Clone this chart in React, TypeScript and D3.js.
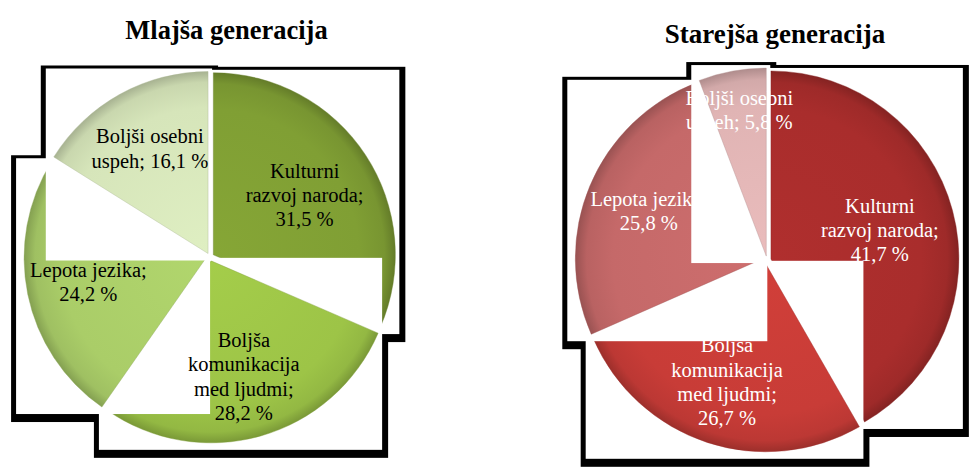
import React from "react";
import * as d3 from "d3";

// ---------- data ----------
const categories = [
  "Kulturni\nrazvoj naroda;",
  "Boljša\nkomunikacija\nmed ljudmi;",
  "Lepota jezika;",
  "Boljši osebni\nuspeh;",
];
const titles = ["Mlajša generacija", "Starejša generacija"];
const youngerValues = [31.5, 28.2, 24.2, 16.1];
const olderValues = [41.7, 26.7, 25.8, 5.8];
const youngerColors = ["#809f34", "#9dc447", "#aacd68", "#d6e5ba"];
const olderColors = ["#a92d2c", "#c83c37", "#c56969", "#e0b4b4"];

// ---------- layout ----------
const W = 971;
const H = 472;
const PAD = { l: 8, t: 3, r: 4, b: 7 }; // white box round each slice
const SHADOW = { l: 5, t: 3, r: 6, b: 8 }; // black frame round the boxes
const FONT = "Liberation Serif, Times New Roman, serif";

type Cfg = {
  id: string;
  title: string;
  values: number[];
  colors: string[];
  cx: number;
  cy: number;
  r: number;
  explode: number;
  titleX: number;
  titleY: number;
  titleSize: number;
  textColor: string;
};

const charts: Cfg[] = [
  {
    id: "young",
    title: titles[0],
    values: youngerValues,
    colors: youngerColors,
    cx: 210,
    cy: 257,
    r: 182,
    explode: 4,
    titleX: 226.5,
    titleY: 39,
    titleSize: 26.5,
    textColor: "#000000",
  },
  {
    id: "old",
    title: titles[1],
    values: olderValues,
    colors: olderColors,
    cx: 767,
    cy: 260,
    r: 188,
    explode: 4,
    titleX: 775,
    titleY: 43,
    titleSize: 27,
    textColor: "#ffffff",
  },
];

const fmt = (v: number) => d3.format(".1f")(v).replace(".", ",") + " %";

function labelLines(cat: string, v: number): string[] {
  const lines = cat.split("\n");
  const last = lines[lines.length - 1];
  if (last.length < 8) {
    lines[lines.length - 1] = last + " " + fmt(v);
  } else {
    lines.push(fmt(v));
  }
  return lines;
}

function PieChart({ cfg }: { cfg: Cfg }) {
  const total = d3.sum(cfg.values);
  const arcs = d3.pie<number>().sort(null).value((d) => d)(cfg.values);
  const arcGen = d3
    .arc<d3.PieArcDatum<number>>()
    .innerRadius(0)
    .outerRadius(cfg.r);

  const pieces = arcs.map((a, i) => {
    const mid = (a.startAngle + a.endAngle) / 2;
    const ox = cfg.cx + cfg.explode * Math.sin(mid);
    const oy = cfg.cy - cfg.explode * Math.cos(mid);
    const angles = [a.startAngle, a.endAngle];
    for (let k = 0; k <= 4; k++) {
      const q = (k * Math.PI) / 2;
      if (q > a.startAngle && q < a.endAngle) angles.push(q);
    }
    const xs = [0, ...angles.map((t) => cfg.r * Math.sin(t))];
    const ys = [0, ...angles.map((t) => -cfg.r * Math.cos(t))];
    const x0 = ox + Math.min(...xs) - PAD.l;
    const x1 = ox + Math.max(...xs) + PAD.r;
    const y0 = oy + Math.min(...ys) - PAD.t;
    const y1 = oy + Math.max(...ys) + PAD.b;
    const frac = a.value / total;
    const ratio = frac < 0.1 ? 0.79 : frac > 0.3 ? 0.6 : 0.66;
    const lx = ox + ratio * cfg.r * Math.sin(mid);
    const ly = oy - ratio * cfg.r * Math.cos(mid);
    return { a, i, ox, oy, x0, x1, y0, y1, lx, ly };
  });

  const fs = 20.5;
  const lh = 24.4;

  return (
    <g>
      <defs>
        {pieces.map((p) => {
          const base = d3.color(cfg.colors[p.i])!;
          return (
            <radialGradient
              key={p.i}
              id={`${cfg.id}-g${p.i}`}
              gradientUnits="userSpaceOnUse"
              cx={0}
              cy={0}
              r={cfg.r}
            >
              <stop offset="0" stopColor={base.brighter(0.12).formatHex()} />
              <stop offset="0.8" stopColor={base.formatHex()} />
              <stop offset="0.94" stopColor={base.darker(0.18).formatHex()} />
              <stop offset="1" stopColor={base.darker(0.7).formatHex()} />
            </radialGradient>
          );
        })}
      </defs>
      <text
        x={cfg.titleX}
        y={cfg.titleY}
        textAnchor="middle"
        fontFamily={FONT}
        fontWeight="bold"
        fontSize={cfg.titleSize}
        fill="#000"
      >
        {cfg.title}
      </text>
      {pieces.map((p) => (
        <rect
          key={"s" + p.i}
          x={p.x0 - SHADOW.l}
          y={p.y0 - SHADOW.t}
          width={p.x1 - p.x0 + SHADOW.l + SHADOW.r}
          height={p.y1 - p.y0 + SHADOW.t + SHADOW.b}
          fill="#000"
        />
      ))}
      {pieces.map((p) => (
        <g key={"p" + p.i}>
          <rect
            x={p.x0}
            y={p.y0}
            width={p.x1 - p.x0}
            height={p.y1 - p.y0}
            fill="#fff"
          />
          <path
            d={arcGen(p.a) || ""}
            transform={`translate(${p.ox},${p.oy})`}
            fill={`url(#${cfg.id}-g${p.i})`}
            stroke={d3.color(cfg.colors[p.i])!.darker(0.6).formatHex()}
            strokeWidth={0.8}
            strokeOpacity={0.5}
          />
        </g>
      ))}
      {pieces.map((p) => {
        const lines = labelLines(categories[p.i], cfg.values[p.i]);
        const top = p.ly - ((lines.length - 1) / 2) * lh + fs * 0.35;
        return (
          <text
            key={"l" + p.i}
            textAnchor="middle"
            fontFamily={FONT}
            fontSize={fs}
            fill={cfg.textColor}
            style={{ fontFamily: FONT }}
          >
            {lines.map((ln, k) => (
              <tspan key={k} x={p.lx} y={top + k * lh}>
                {ln}
              </tspan>
            ))}
          </text>
        );
      })}
    </g>
  );
}

export default function App() {
  return (
    <svg
      width={W}
      height={H}
      viewBox={`0 0 ${W} ${H}`}
      style={{ position: "absolute", left: 0, top: 0, background: "#fff" }}
    >
      <rect x={0} y={0} width={W} height={H} fill="#fff" />
      {charts.map((c) => (
        <PieChart key={c.id} cfg={c} />
      ))}
    </svg>
  );
}
